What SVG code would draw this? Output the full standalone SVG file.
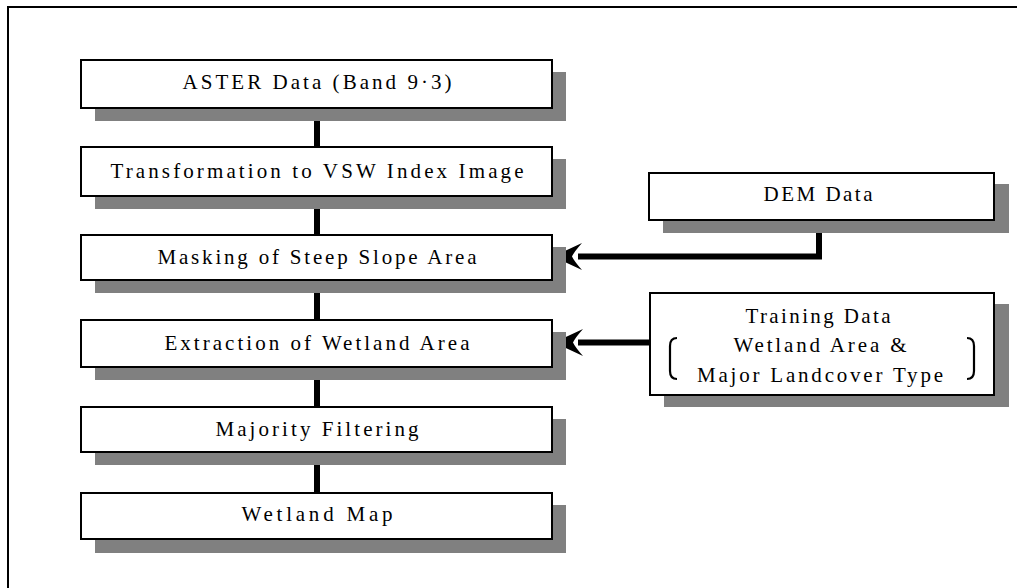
<svg xmlns="http://www.w3.org/2000/svg" width="1017" height="588" viewBox="0 0 1017 588">
<style>
.box{fill:#fff;stroke:#000;stroke-width:2}
.sh{fill:#808080}
.t{font-family:"Liberation Serif","Times New Roman",serif;font-size:21px;fill:#000;text-anchor:middle}
.ln{stroke:#000;stroke-width:6;fill:none}
.br{stroke:#000;stroke-width:2.2;fill:none}
</style>
<rect x="8" y="7" width="1030" height="600" fill="#fff" stroke="#000" stroke-width="2"/>
<g id="connectors">
<line class="ln" x1="317" y1="120" x2="317" y2="148"/>
<line class="ln" x1="317" y1="208" x2="317" y2="236"/>
<line class="ln" x1="317" y1="292" x2="317" y2="321"/>
<line class="ln" x1="317" y1="379" x2="317" y2="408"/>
<line class="ln" x1="317" y1="464" x2="317" y2="494"/>
<path class="ln" d="M819,225 L819,256.5 L578,256.5"/>
<path d="M553,256.5 L582,243 Q574,252 572,256.5 Q574,261 582,270 Z" fill="#000"/>
<path class="ln" d="M650,342.5 L578,342.5"/>
<path d="M554,342.5 L583,329 Q575,338 573,342.5 Q575,347 583,356 Z" fill="#000"/>
</g>
<g id="n1">
<rect class="sh" x="95" y="72" width="471" height="49"/>
<rect class="box" x="81" y="60" width="471" height="48"/>
<text class="t" x="317" y="89" textLength="269" lengthAdjust="spacing">ASTER Data (Band 9·3)</text>
</g>
<g id="n2">
<rect class="sh" x="95" y="159" width="471" height="50"/>
<rect class="box" x="81" y="147" width="471" height="49"/>
<text class="t" x="317" y="178" textLength="413" lengthAdjust="spacing">Transformation to VSW Index Image</text>
</g>
<g id="n3">
<rect class="sh" x="95" y="247" width="471" height="46"/>
<rect class="box" x="81" y="235" width="471" height="45"/>
<text class="t" x="317" y="264" textLength="319" lengthAdjust="spacing">Masking of Steep Slope Area</text>
</g>
<g id="n4">
<rect class="sh" x="95" y="332" width="471" height="48"/>
<rect class="box" x="81" y="320" width="471" height="47"/>
<text class="t" x="317" y="350" textLength="305" lengthAdjust="spacing">Extraction of Wetland Area</text>
</g>
<g id="n5">
<rect class="sh" x="95" y="419" width="471" height="46"/>
<rect class="box" x="81" y="407" width="471" height="45"/>
<text class="t" x="317" y="436" textLength="203" lengthAdjust="spacing">Majority Filtering</text>
</g>
<g id="n6">
<rect class="sh" x="95" y="505" width="471" height="48"/>
<rect class="box" x="81" y="493" width="471" height="46"/>
<text class="t" x="317" y="521" textLength="151" lengthAdjust="spacing">Wetland Map</text>
</g>
<g id="dem">
<rect class="sh" x="663" y="184" width="346" height="49"/>
<rect class="box" x="649" y="173" width="345" height="47"/>
<text class="t" x="818" y="201" textLength="109" lengthAdjust="spacing">DEM Data</text>
</g>
<g id="training">
<rect class="sh" x="664" y="304" width="345" height="103"/>
<rect class="box" x="650" y="293" width="344" height="102"/>
<text class="t" x="818" y="323" textLength="145" lengthAdjust="spacing">Training Data</text>
<text class="t" x="820" y="352" textLength="173" lengthAdjust="spacing">Wetland Area &amp;</text>
<text class="t" x="820" y="382" textLength="246" lengthAdjust="spacing">Major Landcover Type</text>
<path class="br" d="M677,338 Q670,338 670,346 L670,371 Q670,379 677,379"/>
<path class="br" d="M967,338 Q974,338 974,346 L974,371 Q974,379 967,379"/>
</g>
</svg>
